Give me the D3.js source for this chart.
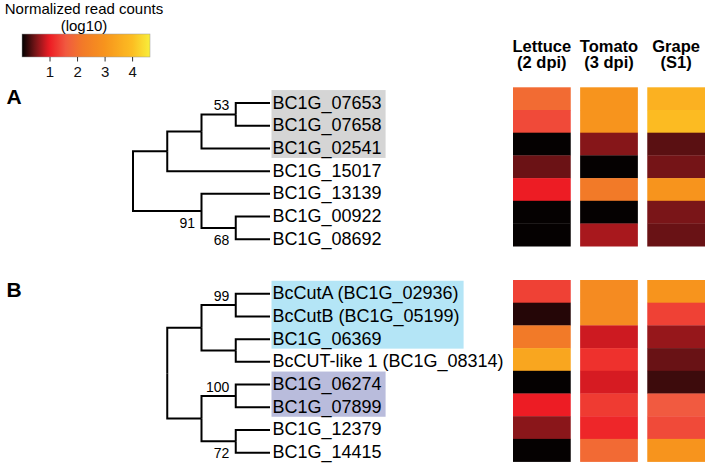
<!DOCTYPE html>
<html>
<head>
<meta charset="utf-8">
<script src="https://cdn.jsdelivr.net/npm/d3@7"></script>
<style>
  body { margin: 0; background: #fff; }
  svg { display: block; font-family: "Liberation Sans", Arial, Helvetica, sans-serif; }
</style>
</head>
<body>
<svg id="chart"></svg>
<script>
var width = 708;
var height = 465;

// colour key (log10 normalized read counts)
var legendTicks = [1, 2, 3, 4];
var legendMax = 4.65;
var colorStops = [0, 0.5, 1, 1.6, 2.2, 3, 4, 4.65];
var colorRange = ["#000000", "#7a1518", "#ed1c24", "#f15a40", "#f27a28", "#f7941d", "#fcbd22", "#f8ee3a"];

// heatmap columns
var conditions = ["Lettuce", "Tomato", "Grape"];
var conditionStages = ["(2 dpi)", "(3 dpi)", "(S1)"];

// panel A
var genesA = ["BC1G_07653", "BC1G_07658", "BC1G_02541", "BC1G_15017", "BC1G_13139", "BC1G_00922", "BC1G_08692"];
var treeA = [[[[0, 1], 2], 3], [4, [5, 6]]];
var supportA = [[[0, 1], 53], [[4, 5, 6], 91], [[5, 6], 68]];
var highlightA = [[0, 2, "#d5d5d5"]];
var lettuceA = [1.92, 1.45, 0.02, 0.44, 1.0, 0.02, 0.02];
var tomatoA = [3.0, 3.0, 0.55, 0.02, 2.2, 0.02, 0.7];
var grapeA = [3.7, 3.95, 0.37, 0.48, 3.0, 0.5, 0.43];

// panel B
var genesB = ["BcCutA (BC1G_02936)", "BcCutB (BC1G_05199)", "BC1G_06369", "BcCUT-like 1 (BC1G_08314)",
              "BC1G_06274", "BC1G_07899", "BC1G_12379", "BC1G_14415"];
var treeB = [[[0, 1], [2, 3]], [[4, 5], [6, 7]]];
var supportB = [[[0, 1], 99], [[4, 5], 100], [[6, 7], 72]];
var highlightB = [[0, 2, "#b4e5f6"], [4, 5, "#b9bcdc"]];
var lettuceB = [1.36, 0.15, 2.2, 3.44, 0.02, 1.0, 0.57, 0.02];
var tomatoB = [2.72, 2.72, 0.86, 1.2, 0.9, 1.3, 1.1, 1.9];
var grapeB = [3.0, 1.36, 0.62, 0.43, 0.25, 1.6, 1.45, 3.0];

var svg = d3.select("#chart")
  .attr("width", width)
  .attr("height", height);

var color = d3.scaleLinear().domain(colorStops).range(colorRange);

var rowH = 22.7;
var step = 34.25;     // horizontal distance per tree level
var leafX = 270;      // where leaf branches end

var col = d3.scaleBand()
  .domain(conditions)
  .range([513, 705])
  .paddingInner(0.14);

// ---- colour key ----
var lx = d3.scaleLinear().domain([0, legendMax]).range([22, 150]);

var grad = svg.append("defs").append("linearGradient")
  .attr("id", "keygrad");
grad.selectAll("stop")
  .data(d3.range(0, 1.0001, 0.02))
  .enter().append("stop")
  .attr("offset", function(d) { return d; })
  .attr("stop-color", function(d) { return color(d * legendMax); });

svg.append("rect")
  .attr("x", lx(0))
  .attr("y", 34)
  .attr("width", lx(legendMax) - lx(0))
  .attr("height", 23)
  .attr("fill", "url(#keygrad)")
  .attr("stroke", "#9a9a9a")
  .attr("stroke-width", 0.5);

var keyAxis = svg.append("g")
  .attr("transform", "translate(0,57)")
  .call(d3.axisBottom(lx).tickValues(legendTicks).tickSize(4.5).tickPadding(5).tickFormat(d3.format("d")));
keyAxis.select(".domain").remove();
keyAxis.selectAll("line").attr("stroke", "#333");
keyAxis.selectAll("text")
  .attr("font-size", "15px")
  .attr("font-family", "'Liberation Sans', Arial, sans-serif")
  .attr("fill", "#111");

svg.append("text")
  .attr("x", 84).attr("y", 14)
  .attr("text-anchor", "middle")
  .attr("font-size", "15px")
  .text("Normalized read counts");
svg.append("text")
  .attr("x", 84).attr("y", 31)
  .attr("text-anchor", "middle")
  .attr("font-size", "15px")
  .text("(log10)");

// ---- column headers ----
var heads = svg.append("g").attr("font-weight", "bold").attr("font-size", "16.5px").attr("text-anchor", "middle");
heads.selectAll(".h1")
  .data(conditions)
  .enter().append("text")
  .attr("x", function(d) { return col(d) + col.bandwidth() / 2; })
  .attr("y", 51.7)
  .text(function(d) { return d; });
heads.selectAll(".h2")
  .data(conditionStages)
  .enter().append("text")
  .attr("x", function(d, i) { return col(conditions[i]) + col.bandwidth() / 2; })
  .attr("y", 68.3)
  .text(function(d) { return d; });

// ---- panels ----
function drawPanel(letter, letterY, genes, tree, support, highlight, values, heatTop, treeTop) {
  var g = svg.append("g");

  g.append("text")
    .attr("x", 6.5).attr("y", letterY)
    .attr("font-size", "21px")
    .attr("font-weight", "bold")
    .text(letter);

  // heatmap
  conditions.forEach(function(c, ci) {
    g.selectAll(".cell" + ci)
      .data(values[ci])
      .enter().append("rect")
      .attr("x", col(c))
      .attr("y", function(d, i) { return heatTop + i * rowH; })
      .attr("width", col.bandwidth())
      .attr("height", rowH + 0.3)
      .attr("fill", function(d) { return color(d); });
  });

  // tree
  var root = d3.hierarchy(tree, function(d) { return Array.isArray(d) ? d : null; });
  d3.cluster()
    .size([genes.length * rowH, root.height * step])
    .separation(function() { return 1; })(root);
  var offX = leafX - root.height * step;

  function px(n) { return offX + n.y; }
  function py(n) { return treeTop + n.x; }

  var hlG = g.append("g");

  g.append("g").selectAll("path")
    .data(root.links())
    .enter().append("path")
    .attr("d", function(l) {
      return "M" + px(l.source) + "," + py(l.source) + "V" + py(l.target) + "H" + px(l.target);
    })
    .attr("fill", "none")
    .attr("stroke", "#000")
    .attr("stroke-width", 2);

  var leaves = root.leaves();
  var labels = g.append("g").attr("font-size", "18px").selectAll("text")
    .data(leaves)
    .enter().append("text")
    .attr("x", leafX + 2.5)
    .attr("y", function(d) { return py(d) + 5.5; })
    .text(function(d) { return genes[d.data]; });

  var lens = [];
  labels.each(function(d) { lens[d.data] = this.getComputedTextLength(); });

  highlight.forEach(function(h) {
    var y0 = py(leaves[h[0]]), y1 = py(leaves[h[1]]);
    hlG.append("rect")
      .attr("x", leafX + 1.5)
      .attr("y", y0 - 13)
      .attr("width", d3.max(lens.slice(h[0], h[1] + 1)) + 5)
      .attr("height", y1 - y0 + 22.5)
      .attr("fill", h[2]);
  });

  // bootstrap values
  var supMap = {};
  support.forEach(function(s) { supMap[s[0].join(",")] = s[1]; });
  root.descendants().forEach(function(n) {
    if (!n.children || !n.parent) return;
    var key = n.leaves().map(function(l) { return l.data; }).sort(d3.ascending).join(",");
    if (supMap[key] === undefined) return;
    var first = n.parent.children[0] === n;
    g.append("text")
      .attr("x", px(n) - 6.5)
      .attr("y", first ? py(n) - 4 : py(n) + 17)
      .attr("text-anchor", "end")
      .attr("font-size", "14px")
      .text(supMap[key]);
  });
}

drawPanel("A", 104, genesA, treeA, supportA, highlightA, [lettuceA, tomatoA, grapeA], 87.3, 91.7);
drawPanel("B", 297, genesB, treeB, supportB, highlightB, [lettuceB, tomatoB, grapeB], 280, 282.4);
</script>
</body>
</html>
